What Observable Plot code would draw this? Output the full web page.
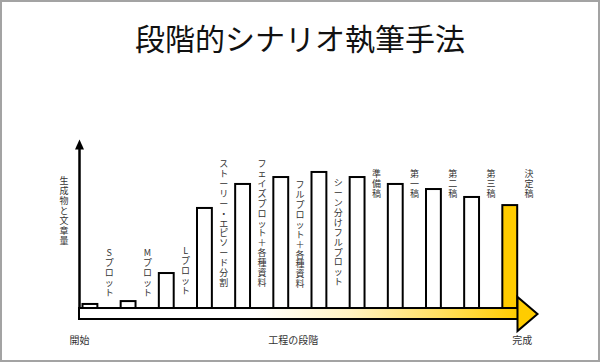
<!DOCTYPE html>
<html>
<head>
<meta charset="utf-8">
<script src="https://cdn.jsdelivr.net/npm/d3@7"></script>
<script src="https://cdn.jsdelivr.net/npm/@observablehq/plot@0.6"></script>
<style>
  html, body { margin: 0; padding: 0; background: #fff; }
  #wrap { position: relative; width: 600px; height: 362px; overflow: hidden; background: #fff;
          font-family: "Noto Sans CJK JP", "Noto Sans", sans-serif; }
  #title { height: 90px; box-sizing: border-box; padding-top: 22px; line-height: 30px;
           font-size: 30px; text-align: center; color: #111; font-weight: 400; }
  #frame { position: absolute; left: 0; top: 0; right: 0; bottom: 0; border: 2px solid #a3a3a3;
           box-sizing: border-box; pointer-events: none; }
  #chart svg { display: block; }
</style>
</head>
<body>
<div id="wrap">
  <div id="title">段階的シナリオ執筆手法</div>
  <div id="chart"></div>
  <div id="frame"></div>
</div>
<script>
// ---- data ----
const stages = [
  "Sプロット", "Mプロット", "Lプロット", "ストーリー・エピソード分割",
  "フェイズプロット＋各種資料", "フルプロット＋各種資料", "シーン分けフルプロット",
  "準備稿", "第一稿", "第二稿", "第三稿", "決定稿"
];
const amounts = [2.4, 4.1, 20.7, 59.2, 73.4, 77.5, 80.5, 77.5, 73.4, 70.4, 65.7, 60.9];
const labelTops = [35, 35, 36.3, 87.8, 87.8, 75.3, 76.5, 81.8, 81.8, 81.8, 81.8, 81.8];
const finalStage = "決定稿";
const yTitle = "生成物と文章量";
const yTitleTop = 77.7;
const axisLabels = ["開始", "工程の段階", "完成"];
const axisLabelPos = [0, 5.6, 11.6];

// ---- styling constants ----
const gold = "#FFCC00";
const bandBottom = -6.5;     // thickness of the process arrow band (y units)
const headLength = 0.5;      // arrowhead length in stage units

const data = stages.map((name, i) => ({
  stage: i, name, amount: amounts[i], labelTop: labelTops[i],
  fill: name === finalStage ? gold : "white"
}));

const headUp = { draw(ctx) { ctx.moveTo(0, 0); ctx.lineTo(4.5, 10); ctx.lineTo(-4.5, 10); ctx.closePath(); } };
const headRight = { draw(ctx) { ctx.moveTo(0, 0); ctx.lineTo(-20, -17); ctx.lineTo(-20, 17); ctx.closePath(); } };

function gradientDefs() {
  const ns = "http://www.w3.org/2000/svg";
  const defs = document.createElementNS(ns, "defs");
  const g = document.createElementNS(ns, "linearGradient");
  g.setAttribute("id", "bandGrad");
  g.setAttribute("x1", "0"); g.setAttribute("x2", "1");
  g.setAttribute("y1", "0"); g.setAttribute("y2", "0");
  [["0%", "#ffffff"], ["40%", "#ffffff"], ["62%", "#fff2c2"], ["82%", "#ffe062"], ["100%", gold]].forEach(([o, c]) => {
    const s = document.createElementNS(ns, "stop");
    s.setAttribute("offset", o); s.setAttribute("stop-color", c);
    g.appendChild(s);
  });
  defs.appendChild(g);
  return defs;
}

const n = stages.length;

const chart = Plot.plot({
  width: 600,
  height: 272,
  marginLeft: 79,
  marginRight: 63,
  marginTop: 49,
  marginBottom: 43,
  style: { fontFamily: "'Noto Sans CJK JP', 'Noto Sans', sans-serif", fontSize: "10px", color: "#333", background: "transparent" },
  x: {
    domain: [0, n],
    ticks: axisLabelPos,
    tickFormat: d => axisLabels[axisLabelPos.indexOf(d)],
    tickSize: 0,
    tickPadding: 17,
    label: null
  },
  y: { domain: [bandBottom, 100], axis: null },
  color: { type: "identity" },
  marks: [
    gradientDefs,
    // bars
    Plot.rectY(data, {
      x1: d => d.stage, x2: d => d.stage + 1, y1: 0, y2: "amount",
      fill: "fill", stroke: "black", strokeWidth: 2,
      insetLeft: 3.5, insetRight: 19.8
    }),
    // process band
    Plot.rect([0], {
      x1: 0, x2: n - headLength, y1: 0, y2: bandBottom,
      fill: "url(#bandGrad)", stroke: "black", strokeWidth: 2
    }),
    // arrowhead of process
    Plot.dot([0], {
      x: n, y: bandBottom / 2, symbol: headRight, r: 5,
      fill: gold, stroke: "black", strokeWidth: 2, strokeLinejoin: "miter"
    }),
    // vertical axis
    Plot.ruleX([0], { y1: 0, y2: 97, stroke: "black", strokeWidth: 2.5 }),
    Plot.dot([0], { x: 0, y: 100, symbol: headUp, r: 5, fill: "black", stroke: "none" }),
    // stage labels, stacked vertically
    Plot.text(data, {
      x: d => d.stage + 0.78, y: "labelTop",
      text: d => [...d.name].join("\n"),
      lineAnchor: "top", lineHeight: 1.1, fontSize: 9, fill: "#333"
    }),
    // y title
    Plot.text([yTitle], {
      frameAnchor: "left", textAnchor: "middle", dx: -15.5, y: yTitleTop,
      text: d => [...d].join("\n"),
      lineAnchor: "top", lineHeight: 1.1, fontSize: 9, fill: "#333"
    })
  ]
});

document.getElementById("chart").appendChild(chart);
</script>
</body>
</html>
